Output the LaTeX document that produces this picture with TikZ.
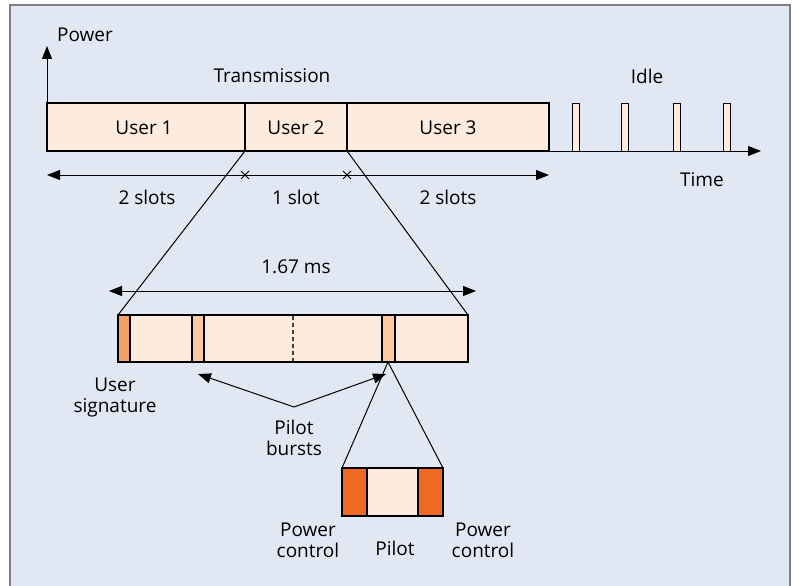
\documentclass[tikz,border=0pt]{standalone}
\usepackage{fontspec}
\setmainfont{Open Sans}
\usetikzlibrary{arrows.meta}
\definecolor{bgblue}{HTML}{E1E8F4}
\definecolor{peach}{HTML}{FDEBDD}
\definecolor{sigor}{HTML}{F4A068}
\definecolor{burst}{HTML}{FCC9A0}
\definecolor{pcor}{HTML}{EE6A22}
\definecolor{frame}{HTML}{7F7F7F}
\begin{document}
\begin{tikzpicture}[x=1pt,y=-1pt,
  lbl/.style={font=\fontsize{19}{21}\selectfont, inner sep=0pt, align=center, text=black},
  box/.style={draw=black, line width=1.2pt, fill=peach},
  ln/.style={draw=black, line width=1pt},
  arr/.style={ln, -{Triangle[length=13pt,width=10pt]}},
  darr/.style={ln, {Triangle[length=13pt,width=10pt]}-{Triangle[length=13pt,width=10pt]}}]
\useasboundingbox (0,0) rectangle (798,586);
\fill[bgblue] (10,5) rectangle (790,592);
\draw[frame, line width=1.2pt] (10,592) -- (10,5) -- (790,5) -- (790,592);
% axes
\coordinate (O) at (47,151);
\coordinate (Ptop) at (47,46);
\coordinate (Tend) at (761,151);
\draw[arr] (O) -- (Ptop);
\draw[arr] (O) -- (Tend);
\node[lbl] (power) at (85,35) {Power};
\node[lbl] (time) at (702,180) {Time};
\node[lbl] (trans) at (272,76) {Transmission};
\node[lbl] (idle) at (647,76) {Idle};
% user bar
\draw[box] (47,103) rectangle (245,151);
\draw[box] (245,103) rectangle (347,151);
\draw[box] (347,103) rectangle (549,151);
\node[lbl] (u1) at (144,128) {User 1};
\node[lbl] (u2) at (296,128) {User 2};
\node[lbl] (u3) at (448,128) {User 3};
\coordinate (u2bl) at (245,151);
\coordinate (u2br) at (347,151);
% idle pulses
\foreach \x in {572,621,673,723}{\draw[box, line width=1pt] (\x,103) rectangle (\x+7,151);}
% slot arrow
\coordinate (sa) at (47,175);
\coordinate (sb) at (549,175);
\draw[darr] (sa) -- (sb);
\foreach \x in {245,347}{\draw[ln, line width=0.8pt] (\x-4,171) -- (\x+4,179) (\x-4,179) -- (\x+4,171);}
\node[lbl] (s1) at (147,197) {2 slots};
\node[lbl] (s2) at (296,197) {1 slot};
\node[lbl] (s3) at (448,197) {2 slots};
% slot detail
\coordinate (msa) at (109,291);
\coordinate (msb) at (476,291);
\draw[darr] (msa) -- (msb);
\node[lbl] (ms) at (296,267) {1.67 ms};
\draw[box] (118,315) rectangle (468,362);
\coordinate (slotl) at (118,315);
\coordinate (slotr) at (468,315);
\draw[ln] (u2bl) -- (slotl);
\draw[ln] (u2br) -- (slotr);
\draw[draw=black, line width=1.2pt, fill=sigor] (118,315) rectangle (130,362);
\draw[draw=black, line width=1.2pt, fill=burst] (192,315) rectangle (204,362);
\draw[draw=black, line width=1.2pt, fill=burst] (382,315) rectangle (395,362);
\draw[dash pattern=on 4pt off 3pt, line width=1.1pt, black!75] (293,316) -- (293,361);
\node[lbl] (usig) at (115,397) {User\\signature};
% pilot bursts
\coordinate (pbj) at (294,407);
\coordinate (pb1) at (198,374);
\coordinate (pb2) at (386,374);
\draw[arr] (pbj) -- (pb1);
\draw[arr] (pbj) -- (pb2);
\node[lbl] (pbl) at (294,438) {Pilot\\bursts};
% zoom of pilot
\coordinate (pz) at (388,362);
\coordinate (pzl) at (342,468);
\coordinate (pzr) at (443,468);
\draw[ln] (pz) -- (pzl);
\draw[ln] (pz) -- (pzr);
\draw[draw=black, line width=1.2pt, fill=pcor] (342,468) rectangle (367,516);
\draw[draw=black, line width=1.2pt, fill=peach] (367,468) rectangle (418,516);
\draw[draw=black, line width=1.2pt, fill=pcor] (418,468) rectangle (443,516);
\node[lbl] (pc1) at (308,540) {Power\\control};
\node[lbl] (pil) at (395,548) {Pilot};
\node[lbl] (pc2) at (483,540) {Power\\control};
\end{tikzpicture}
\end{document}
